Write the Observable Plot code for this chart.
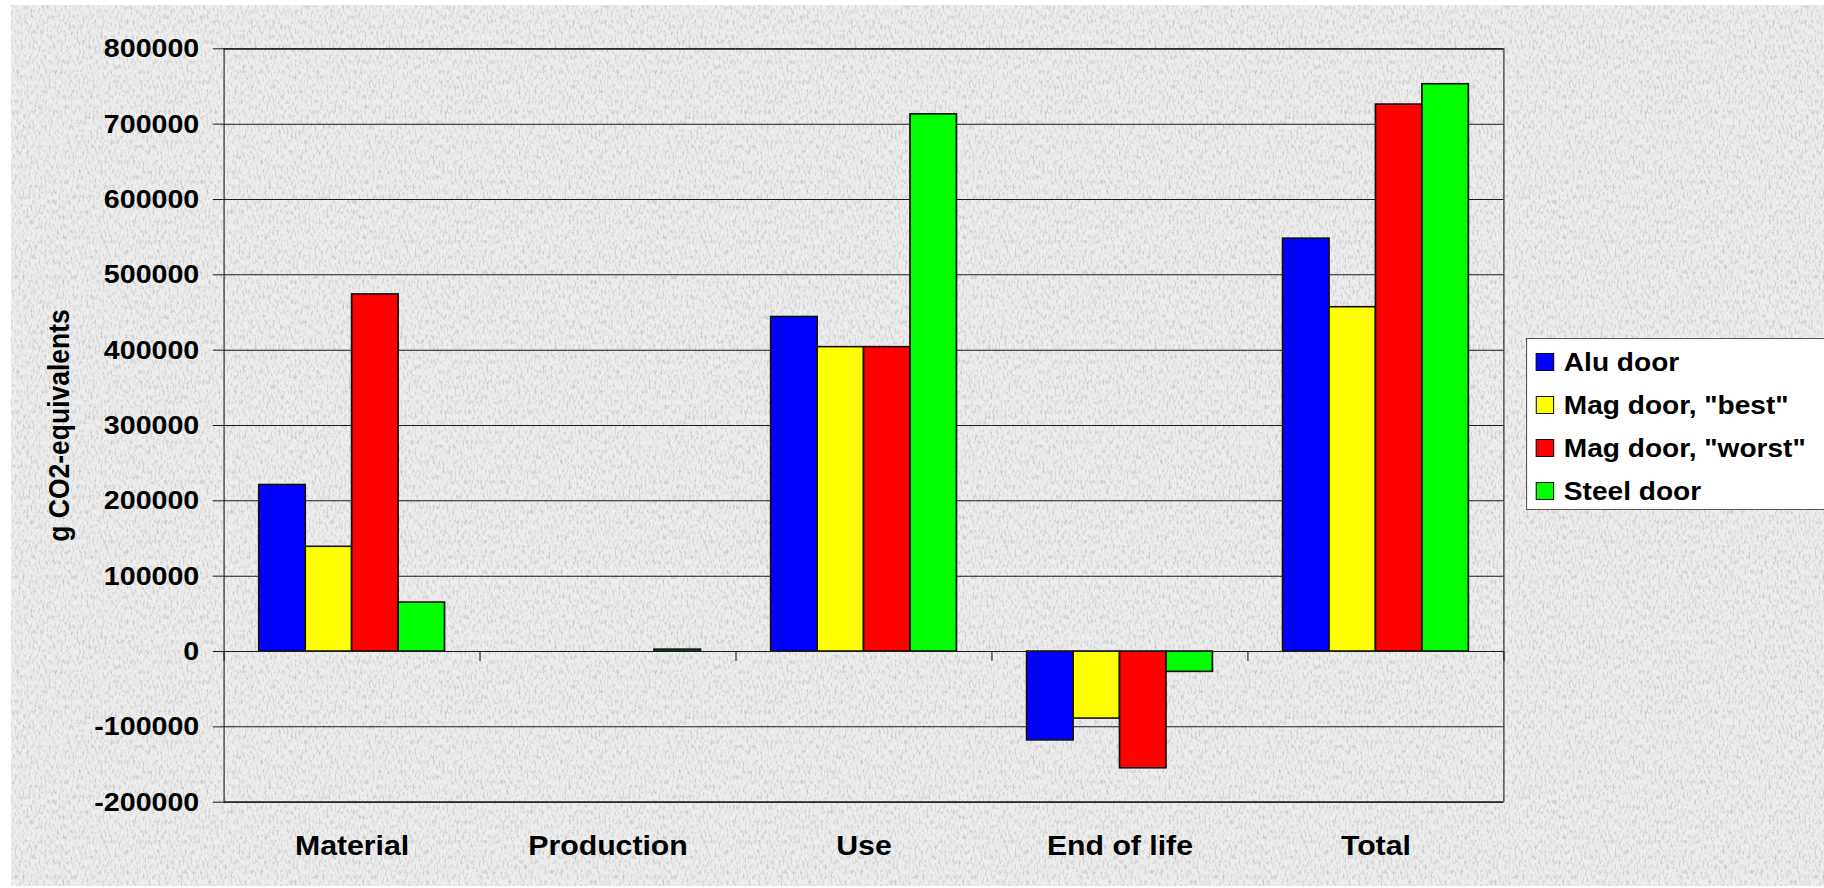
<!DOCTYPE html>
<html>
<head>
<meta charset="utf-8">
<script src="https://cdn.jsdelivr.net/npm/d3@7"></script>
<script src="https://cdn.jsdelivr.net/npm/@observablehq/plot@0.6"></script>
<style>
html, body { margin: 0; padding: 0; background: #fff; width: 1824px; height: 888px; overflow: hidden; }
#bg { position: absolute; left: 11px; top: 5px; right: 0; bottom: 2px; background-color: #e4e4e4; }
#stage { position: absolute; left: 0; top: 0; width: 1689px; height: 888px; transform: scaleX(1.08); transform-origin: 0 0;
  font-family: "Liberation Sans", Arial, sans-serif; font-weight: bold; overflow: hidden; }
#legend { position: absolute; left: 1413px; top: 338px; width: 340px; height: 172px; background: #fff; border: 1px solid #555; box-sizing: border-box; }
.item { position: absolute; left: 8px; height: 30px; display: flex; align-items: center; font-size: 26px; color: #000; white-space: nowrap; }
.sw { width: 17px; height: 18px; border: 1.5px solid #111; box-sizing: border-box; margin-right: 9px; }
</style>
</head>
<body>
<div id="bg"></div>
<div id="stage"><div id="chart"></div><div id="legend"></div></div>
<script>
// ---- data ----
const categories = ["Material", "Production", "Use", "End of life", "Total"];
const seriesNames = ["Alu door", "Mag door, \"best\"", "Mag door, \"worst\"", "Steel door"];
const seriesColors = ["#0000ff", "#ffff00", "#ff0000", "#00ff00"];
const aluDoor   = [221000,    0, 444000, -118000, 548000];
const magBest   = [139000,    0, 404000,  -89000, 457000];
const magWorst  = [474000,    0, 404000, -155000, 726000];
const steelDoor = [ 65000, 2500, 713000,  -27000, 753000];
const yTicks = [-200000, -100000, 0, 100000, 200000, 300000, 400000, 500000, 600000, 700000, 800000];
const yLabel = "g CO2-equivalents";

// ---- background texture ----
const noise = `<svg xmlns='http://www.w3.org/2000/svg' width='300' height='300'><filter id='f' x='0' y='0' width='100%' height='100%'><feTurbulence type='fractalNoise' baseFrequency='0.5 0.2' numOctaves='4' seed='7' stitchTiles='stitch'/><feColorMatrix type='matrix' values='0 0 0 0 0.42 0 0 0 0 0.42 0 0 0 0 0.42 3 0 0 0 -1.4'/></filter><rect width='300' height='300' fill='#eeeeee'/><rect width='300' height='300' filter='url(#f)' opacity='0.55'/></svg>`;
document.getElementById("bg").style.backgroundImage = `url("data:image/svg+xml,${encodeURIComponent(noise)}")`;

// ---- chart ----
const seriesValues = [aluDoor, magBest, magWorst, steelDoor];
const rows = categories.flatMap((c, i) => seriesNames.map((s, j) => ({category: c, series: s, value: seriesValues[j][i]})));

const S = 1.08;                 // horizontal stretch of the original image
const W = 1824 / S;
const mL = 224 / S, mR = (1824 - 1504) / S, mT = 48.3, mB = 888 - 801.7;
const facetW = (W - mL - mR) / categories.length;
const ink = "#1a1a1a";

const chart = Plot.plot({
  width: W,
  height: 888,
  marginLeft: mL,
  marginRight: mR,
  marginTop: mT,
  marginBottom: mB,
  style: {background: "transparent", fontFamily: "'Liberation Sans', Arial, sans-serif", fontWeight: "bold", color: "#000", overflow: "visible"},
  fx: {domain: categories, padding: 0, label: null},
  x: {domain: seriesNames, paddingInner: 0, paddingOuter: 0.75, axis: null},
  y: {domain: [-200000, 800000]},
  color: {domain: seriesNames, range: seriesColors},
  marks: [
    Plot.gridY(yTicks, {stroke: ink, strokeOpacity: 1, strokeWidth: 1}),
    Plot.barY(rows, {fx: "category", x: "series", y: "value", fill: "series", stroke: "#111", strokeWidth: 1.6}),
    Plot.ruleY([0], {stroke: ink, strokeWidth: 1}),
    Plot.ruleY([800000, -200000], {stroke: "#2a2a2a", strokeWidth: 1.8}),
    Plot.ruleX([categories[0]], {fx: d => d, x: null, dx: -facetW / 2, stroke: ink, strokeWidth: 1}),
    Plot.ruleX([categories[categories.length - 1]], {fx: d => d, x: null, dx: facetW / 2, stroke: ink, strokeWidth: 1}),
    Plot.ruleX(categories, {fx: d => d, x: null, y1: 0, y2: 0, insetBottom: -10, dx: -facetW / 2, stroke: ink}),
    Plot.ruleX([categories[categories.length - 1]], {fx: d => d, x: null, y1: 0, y2: 0, insetBottom: -10, dx: facetW / 2, stroke: ink}),
    Plot.axisY(yTicks, {tickFormat: d => String(d), fontSize: 26.5, tickSize: 10, tickPadding: 13, stroke: ink,
      label: yLabel, labelAnchor: "center", labelOffset: 162, labelArrow: "none"}),
    Plot.axisFx({anchor: "bottom", tickSize: 0, tickPadding: 33, fontSize: 28, label: null})
  ]
});
document.getElementById("chart").appendChild(chart);

// ---- legend ----
const legend = document.getElementById("legend");
const rowCenters = [362, 405, 448, 491];
seriesNames.forEach((name, i) => {
  const item = document.createElement("div");
  item.className = "item";
  item.style.top = (rowCenters[i] - 338 - 16) + "px";
  const sw = document.createElement("span");
  sw.className = "sw";
  sw.style.background = seriesColors[i];
  const t = document.createElement("span");
  t.textContent = name;
  item.appendChild(sw);
  item.appendChild(t);
  legend.appendChild(item);
});
</script>
</body>
</html>
